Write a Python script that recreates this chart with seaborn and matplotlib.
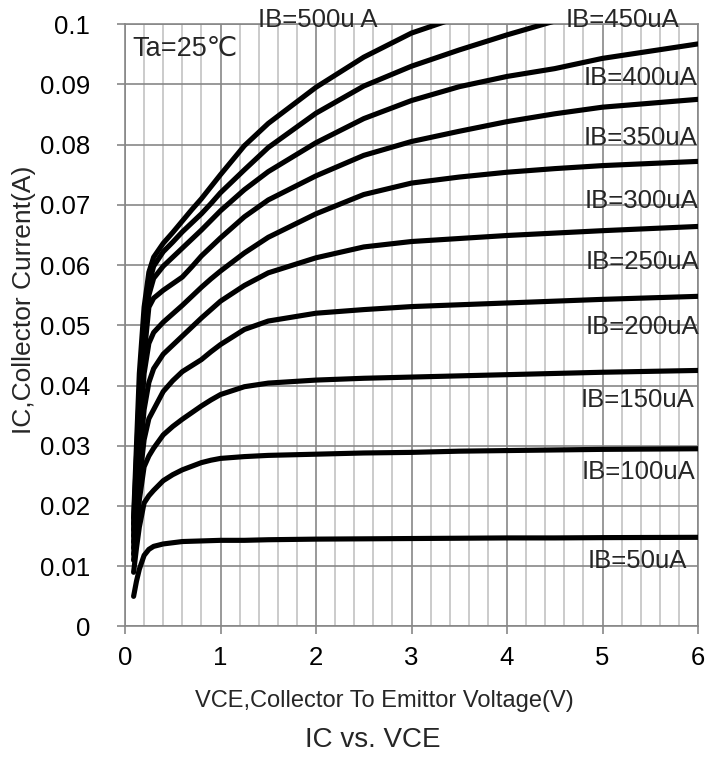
import numpy as np
import matplotlib
matplotlib.use('Agg')
import matplotlib.pyplot as plt
from matplotlib.ticker import MultipleLocator
import seaborn as sns

# VCE grid (V) shared by all curves
VCE = [0.09, 0.12, 0.15, 0.2, 0.25, 0.3, 0.4, 0.5, 0.6, 0.7, 0.8, 0.9, 1.0,
       1.25, 1.5, 2.0, 2.5, 3.0, 3.5, 4.0, 4.5, 5.0, 6.0]

# collector current (A), one list per base current
IC_50 = [0.005, 0.0075, 0.0095, 0.0118, 0.0128, 0.0133, 0.0137, 0.0139, 0.0141, 0.01415, 0.0142, 0.01425, 0.0143,
         0.0143, 0.0144, 0.0145, 0.01455, 0.0146, 0.01465, 0.0147, 0.0147, 0.01475, 0.0148]
IC_100 = [0.009, 0.013, 0.0165, 0.0205, 0.0217, 0.0226, 0.0242, 0.0252, 0.026, 0.0266, 0.0272, 0.0276, 0.0279,
          0.0282, 0.0284, 0.0286, 0.0288, 0.0289, 0.0291, 0.0292, 0.0293, 0.0294, 0.0295]
IC_150 = [0.011, 0.016, 0.021, 0.0265, 0.0283, 0.0296, 0.0318, 0.0332, 0.0344, 0.0355, 0.0366, 0.0376, 0.0385,
          0.0398, 0.0404, 0.0409, 0.0412, 0.0414, 0.0416, 0.0418, 0.042, 0.0422, 0.0425]
IC_200 = [0.012, 0.018, 0.024, 0.031, 0.0345, 0.036, 0.039, 0.0408, 0.0423, 0.0433, 0.0443, 0.0456, 0.0468,
          0.0493, 0.0507, 0.052, 0.0526, 0.0531, 0.0534, 0.0537, 0.054, 0.0543, 0.0548]
IC_250 = [0.013, 0.02, 0.027, 0.036, 0.0405, 0.0428, 0.0452, 0.0467, 0.0482, 0.0497, 0.0512, 0.0526, 0.054,
          0.0566, 0.0587, 0.0612, 0.063, 0.0639, 0.0644, 0.0649, 0.0653, 0.0657, 0.0664]
IC_300 = [0.014, 0.022, 0.03, 0.042, 0.047, 0.0488, 0.0505, 0.0519, 0.0533, 0.0548, 0.0563, 0.0577, 0.059,
          0.062, 0.0646, 0.0685, 0.0717, 0.0736, 0.0746, 0.0754, 0.076, 0.0765, 0.0772]
IC_350 = [0.015, 0.024, 0.033, 0.045, 0.053, 0.0545, 0.0558, 0.0569, 0.058, 0.0597, 0.0615, 0.063, 0.0645,
          0.068, 0.0708, 0.0748, 0.0782, 0.0805, 0.0822, 0.0838, 0.0851, 0.0862, 0.0875]
IC_400 = [0.016, 0.026, 0.036, 0.047, 0.055, 0.0578, 0.0598, 0.0613, 0.0628, 0.0643, 0.0658, 0.0674, 0.069,
          0.0725, 0.0755, 0.0803, 0.0843, 0.0873, 0.0896, 0.0913, 0.0926, 0.0943, 0.0967]
IC_450 = [0.017, 0.028, 0.039, 0.05, 0.0568, 0.0598, 0.0622, 0.0638, 0.0655, 0.067, 0.0685, 0.0702, 0.072,
          0.0758, 0.0795, 0.0852, 0.0897, 0.093, 0.0957, 0.0982, 0.1005, np.nan, np.nan]
IC_500 = [0.018, 0.03, 0.042, 0.053, 0.0588, 0.0613, 0.0636, 0.0654, 0.0673, 0.0692, 0.071, 0.073, 0.075,
          0.0798, 0.0835, 0.0895, 0.0945, 0.0985, 0.1012, np.nan, np.nan, np.nan, np.nan]

CURVES = [IC_50, IC_100, IC_150, IC_200, IC_250, IC_300, IC_350, IC_400, IC_450, IC_500]

# curve labels and where they sit (data coords)
LABELS = ['IB=50uA', 'IB=100uA', 'IB=150uA', 'IB=200uA', 'IB=250uA',
          'IB=300uA', 'IB=350uA', 'IB=400uA', 'IB=450uA', 'IB=500u A']
LABEL_X = [5.36, 5.38, 5.37, 5.42, 5.42, 5.41, 5.40, 5.40, 5.21, 2.02]
LABEL_Y = [0.0109, 0.0257, 0.0376, 0.0497, 0.0605, 0.0707, 0.0811, 0.0911, 0.1007, 0.1007]

MAJOR_GRID = '#878787'
MINOR_GRID = '#c2c2c2'

sns.set_style('white')
plt.rcParams['font.family'] = ['Liberation Sans', 'DejaVu Sans']

fig = plt.figure(figsize=(7.07, 7.58), dpi=100)
ax = fig.add_axes([0.1768, 0.1735, 0.8105, 0.7948])

for ic in CURVES:
    sns.lineplot(x=VCE, y=ic, color='black', linewidth=3.7, ax=ax, zorder=3)

ax.set_xlim(0, 6)
ax.set_ylim(0, 0.1)
ax.xaxis.set_major_locator(MultipleLocator(1))
ax.xaxis.set_minor_locator(MultipleLocator(0.2))
ax.set_yticks(np.arange(0, 0.1001, 0.01))
ax.set_yticklabels(['0', '0.01', '0.02', '0.03', '0.04', '0.05',
                    '0.06', '0.07', '0.08', '0.09', '0.1'])

ax.grid(which='major', axis='both', color=MAJOR_GRID, linewidth=1.2, zorder=1)
ax.grid(which='minor', axis='x', color=MINOR_GRID, linewidth=1.2, zorder=0)
ax.set_axisbelow(True)

for side in ['left', 'bottom', 'top', 'right']:
    ax.spines[side].set_color(MAJOR_GRID)
    ax.spines[side].set_linewidth(1.2)

ax.tick_params(which='major', direction='out', length=6, width=1.2, color=MAJOR_GRID,
               labelsize=18.5, labelcolor='black')
ax.tick_params(axis='x', which='major', pad=8, bottom=True)
ax.tick_params(axis='y', which='major', pad=19, left=True)
ax.tick_params(which='minor', length=0)

ax.set_xlabel('VCE,Collector To Emittor Voltage(V)', fontsize=17)
ax.xaxis.set_label_coords(0.453, -0.105)
ax.set_ylabel('IC,Collector Current(A)', fontsize=19)
ax.yaxis.set_label_coords(-0.155, 0.542)

for lab, lx, ly in zip(LABELS, LABEL_X, LABEL_Y):
    ax.text(lx, ly, lab, ha='center', va='center', fontsize=18.5, zorder=4, clip_on=False)

ax.text(0.075, 0.0958, 'Ta=25\u2103', ha='left', va='center', fontsize=19.5, zorder=4)

fig.text(0.527, 1 - 740 / 758, 'IC vs. VCE', ha='center', va='center', fontsize=20)

fig.savefig('out.png', dpi=100)
